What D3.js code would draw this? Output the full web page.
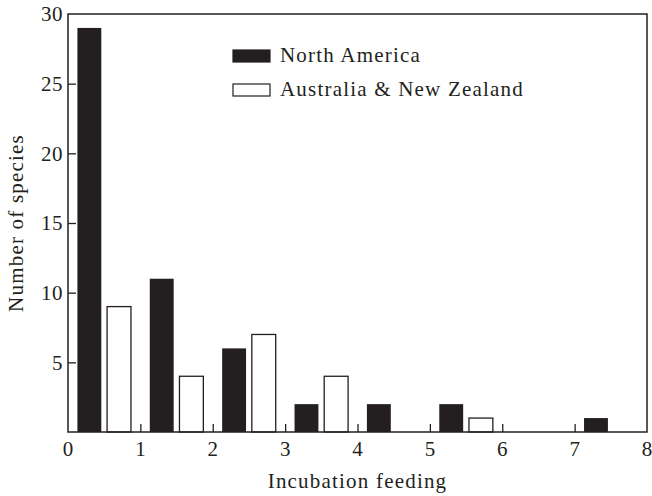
<!DOCTYPE html>
<html>
<head>
<meta charset="utf-8">
<script src="https://cdn.jsdelivr.net/npm/d3@7"></script>
<style>
  body { margin: 0; background: #fff; }
  text { font-family: "Liberation Serif", "DejaVu Serif", serif; fill: #231f20; }
</style>
</head>
<body>
<div id="chart"></div>
<script>
var bins = [0, 1, 2, 3, 4, 5, 6, 7];
var northAmerica = [29, 11, 6, 2, 2, 2, 0, 1];
var ausNz = [9, 4, 7, 4, 0, 1, 0, 0];
var xTicks = [0, 1, 2, 3, 4, 5, 6, 7, 8];
var yTicks = [5, 10, 15, 20, 25, 30];
var seriesNames = ["North America", "Australia & New Zealand"];

var width = 652;
var height = 496;
var margin = {top: 14, left: 68, right: 5, bottom: 64};
var ink = "#231f20";
var fontSize = "21px";
var spacing = "1.2px";

var svg = d3.select("#chart")
  .append("svg")
  .attr("width", width)
  .attr("height", height);

var x = d3.scaleLinear()
  .domain([0, 8])
  .range([margin.left, width - margin.right]);

var y = d3.scaleLinear()
  .domain([0, 30])
  .range([height - margin.bottom, margin.top]);

// bars: black at bin+0.13, white at bin+0.54, each a third wide
var barW = 0.33;

svg.append("g").selectAll("rect")
  .data(bins.filter(function(d, i) { return northAmerica[i] > 0; }))
  .enter().append("rect")
  .attr("x", function(d) { return x(d + 0.13); })
  .attr("width", function(d) { return x(d + 0.13 + barW) - x(d + 0.13); })
  .attr("y", function(d) { return y(northAmerica[bins.indexOf(d)]); })
  .attr("height", function(d) { return y(0) - y(northAmerica[bins.indexOf(d)]); })
  .attr("fill", ink);

svg.append("g").selectAll("rect")
  .data(bins.filter(function(d, i) { return ausNz[i] > 0; }))
  .enter().append("rect")
  .attr("x", function(d) { return x(d + 0.54); })
  .attr("width", function(d) { return x(d + 0.54 + barW) - x(d + 0.54); })
  .attr("y", function(d) { return y(ausNz[bins.indexOf(d)]); })
  .attr("height", function(d) { return y(0) - y(ausNz[bins.indexOf(d)]); })
  .attr("fill", "#fff")
  .attr("stroke", ink)
  .attr("stroke-width", 1.3);

// frame
svg.append("rect")
  .attr("x", x(0))
  .attr("y", y(30))
  .attr("width", x(8) - x(0))
  .attr("height", y(0) - y(30))
  .attr("fill", "none")
  .attr("stroke", ink)
  .attr("stroke-width", 1.5);

// x axis: inward ticks, labels below
var xAxis = svg.append("g")
  .attr("transform", "translate(0," + y(0) + ")")
  .call(d3.axisTop(x).tickValues(xTicks).tickSize(8).tickFormat(""));
xAxis.select(".domain").remove();
xAxis.selectAll(".tick line").attr("stroke", ink).attr("stroke-width", 1.3)
  .filter(function(d) { return d === 0 || d === 8; }).remove();

svg.append("g").selectAll("text")
  .data(xTicks)
  .enter().append("text")
  .attr("x", function(d) { return x(d); })
  .attr("y", y(0) + 24)
  .attr("text-anchor", "middle")
  .attr("font-size", fontSize)
  .text(function(d) { return d; });

// y axis: inward ticks, labels left
var yAxis = svg.append("g")
  .attr("transform", "translate(" + x(0) + ",0)")
  .call(d3.axisRight(y).tickValues(yTicks).tickSize(8).tickFormat(""));
yAxis.select(".domain").remove();
yAxis.selectAll(".tick line").attr("stroke", ink).attr("stroke-width", 1.3)
  .filter(function(d) { return d === 30; }).remove();

svg.append("g").selectAll("text")
  .data(yTicks)
  .enter().append("text")
  .attr("x", x(0) - 5)
  .attr("y", function(d) { return y(d); })
  .attr("dy", "0.35em")
  .attr("text-anchor", "end")
  .attr("font-size", fontSize)
  .attr("letter-spacing", "0.5px")
  .text(function(d) { return d; });

// axis titles
svg.append("text")
  .attr("x", (x(0) + x(8)) / 2)
  .attr("y", 488)
  .attr("text-anchor", "middle")
  .attr("font-size", fontSize)
  .attr("letter-spacing", spacing)
  .text("Incubation feeding");

svg.append("text")
  .attr("transform", "translate(23," + ((y(0) + y(30)) / 2) + ") rotate(-90)")
  .attr("text-anchor", "middle")
  .attr("font-size", fontSize)
  .attr("letter-spacing", spacing)
  .text("Number of species");

// legend
var legend = svg.append("g").selectAll("g")
  .data(seriesNames)
  .enter().append("g")
  .attr("transform", function(d, i) { return "translate(233," + (50 + i * 34) + ")"; });

legend.append("rect")
  .attr("width", 37)
  .attr("height", 12)
  .attr("fill", function(d, i) { return i === 0 ? ink : "#fff"; })
  .attr("stroke", ink)
  .attr("stroke-width", 1.2);

legend.append("text")
  .attr("x", 47)
  .attr("y", 12)
  .attr("font-size", fontSize)
  .attr("letter-spacing", spacing)
  .text(function(d) { return d; });
</script>
</body>
</html>
